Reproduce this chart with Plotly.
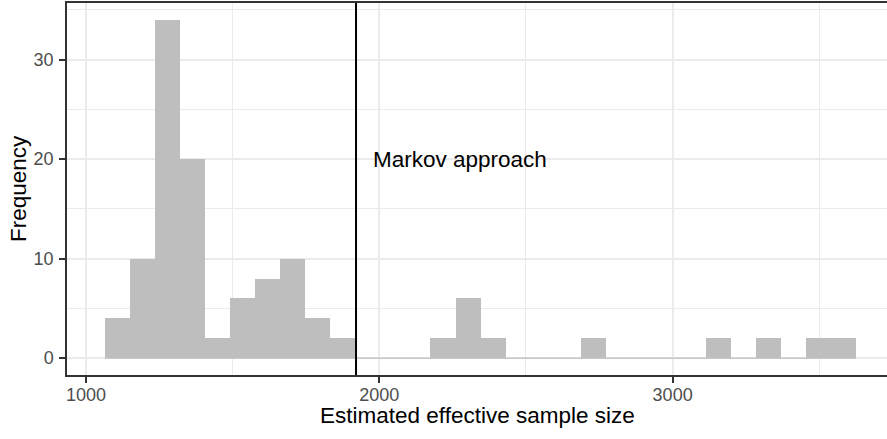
#!/usr/bin/env python3
"""
Histogram of estimated effective sample sizes, with the Markov approach marked.
"""
import numpy as np
import plotly.graph_objects as go

# histogram bins (30 equal-width bins)
bin_start = 1064.8
bin_width = 85.35
counts = [4, 10, 34, 20, 2, 6, 8, 10, 4, 2,
          0, 0, 0, 2, 6, 2, 0, 0, 0, 2,
          0, 0, 0, 0, 2, 0, 2, 0, 2, 2]

# reference value from the Markov approach
markov_ess = 1920.5
markov_label = "Markov approach"
label_x = 1972
label_y = 20

x_ticks = [1000, 2000, 3000]
y_ticks = [0, 10, 20, 30]

FONT = "Liberation Sans, Arial, sans-serif"
BAR_GREY = "#BEBEBE"
GRID = "#EBEBEB"
BORDER = "#333333"

edges = bin_start + bin_width * np.arange(len(counts) + 1)
centers = (edges[:-1] + edges[1:]) / 2

fig = go.Figure()

# zero-height bins still leave a thin grey baseline in the original
fig.add_trace(go.Scatter(
    x=[edges[0], edges[-1]],
    y=[0, 0],
    mode='lines',
    line=dict(color=BAR_GREY, width=1.2),
    hoverinfo='skip',
    showlegend=False
))

fig.add_trace(go.Bar(
    x=centers,
    y=counts,
    width=bin_width,
    marker=dict(color=BAR_GREY, line=dict(width=0)),
    showlegend=False
))

# vertical reference line
fig.add_trace(go.Scatter(
    x=[markov_ess, markov_ess],
    y=[-1.7, 35.7],
    mode='lines',
    line=dict(color='black', width=2),
    hoverinfo='skip',
    showlegend=False
))

fig.add_annotation(
    x=label_x, y=label_y,
    text=markov_label,
    showarrow=False,
    xanchor='left', yanchor='middle',
    font=dict(family=FONT, size=22.5, color='black')
)

# axis titles as annotations so the margins stay fixed
fig.add_annotation(
    xref='paper', yref='paper', x=0.5, y=0,
    text="Estimated effective sample size",
    showarrow=False, xanchor='center', yanchor='middle', yshift=-40,
    font=dict(family=FONT, size=22.5, color='black')
)
fig.add_annotation(
    xref='paper', yref='paper', x=0, y=0.5,
    text="Frequency", textangle=-90,
    showarrow=False, xanchor='center', yanchor='middle', xshift=-49,
    font=dict(family=FONT, size=22.5, color='black')
)

fig.update_layout(
    width=887,
    height=439,
    autosize=False,
    margin=dict(l=67, r=0, t=3, b=64, autoexpand=False),
    plot_bgcolor='white',
    paper_bgcolor='white',
    bargap=0,
    font=dict(family=FONT),
    showlegend=False
)

fig.update_xaxes(
    range=[935, 3731],
    automargin=False,
    tickvals=x_ticks,
    ticktext=[str(v) for v in x_ticks],
    ticks='outside', ticklen=6, tickwidth=1.5, tickcolor=BORDER,
    ticklabelstandoff=-3,
    tickfont=dict(family=FONT, size=18, color='#4D4D4D'),
    showgrid=True, gridcolor=GRID, gridwidth=2,
    minor=dict(showgrid=True, gridcolor=GRID, gridwidth=1, tickvals=[1500, 2500, 3500]),
    showline=True, linecolor=BORDER, linewidth=1.5, mirror=True,
    zeroline=False
)

fig.update_yaxes(
    range=[-1.7, 35.7],
    automargin=False,
    tickvals=y_ticks,
    ticktext=[str(v) for v in y_ticks],
    ticks='outside', ticklen=6, tickwidth=1.5, tickcolor=BORDER,
    ticklabelstandoff=2,
    tickfont=dict(family=FONT, size=18, color='#4D4D4D'),
    showgrid=True, gridcolor=GRID, gridwidth=2,
    minor=dict(showgrid=True, gridcolor=GRID, gridwidth=1, tickvals=[5, 15, 25, 35]),
    showline=True, linecolor=BORDER, linewidth=1.5, mirror=False,
    zeroline=False
)

# drop the default page margin so the figure sits at the window's corner
fig.write_html("out.html", config={'displayModeBar': False},
               post_script="document.body.style.margin='0';")
